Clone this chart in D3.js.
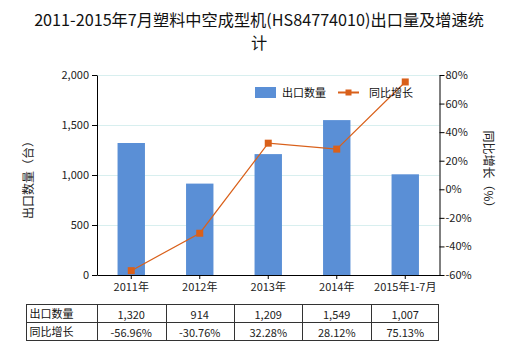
<!DOCTYPE html>
<html>
<head>
<meta charset="utf-8">
<script src="https://cdn.jsdelivr.net/npm/d3@7/dist/d3.min.js"></script>
<style>
  html, body { margin: 0; padding: 0; background: #fff; }
  svg { display: block; }
  text { font-family: "Microsoft YaHei", "Noto Sans CJK SC", "Noto Sans", sans-serif; }
</style>
</head>
<body>
<svg id="chart" width="520" height="350"></svg>
<script>
// Export volume and year-on-year growth of plastic blow-moulding machines
const categories = ["2011年", "2012年", "2013年", "2014年", "2015年1-7月"];
const volumes = [1320, 914, 1209, 1549, 1007];
const growth = [-56.96, -30.76, 32.28, 28.12, 75.13];
const volumeLabels = ["1,320", "914", "1,209", "1,549", "1,007"];
const growthLabels = ["-56.96%", "-30.76%", "32.28%", "28.12%", "75.13%"];
const leftTicks = [0, 500, 1000, 1500, 2000];
const rightTicks = [-60, -40, -20, 0, 20, 40, 60, 80];
const titleLines = ["2011-2015年7月塑料中空成型机(HS84774010)出口量及增速统", "计"];

const svg = d3.select("#chart");
const plotLeft = 97, plotRight = 439.5, plotTop = 75, plotBottom = 275;

const x = d3.scaleBand().domain(categories).range([plotLeft, plotRight]).paddingInner(0.6).paddingOuter(0.3);
const yL = d3.scaleLinear().domain([0, 2000]).range([plotBottom, plotTop]);
const yR = d3.scaleLinear().domain([-60, 80]).range([plotBottom, plotTop]);

const barColor = "#5a8fd6";
const lineColor = "#d9601a";
const fontStack = '"Microsoft YaHei", "Noto Sans CJK SC", sans-serif';

// Title (two lines)
svg.append("g").selectAll("text").data(titleLines).join("text")
  .attr("x", 259).attr("y", (d, i) => 26 + i * 23)
  .attr("text-anchor", "middle").attr("font-size", 16.2).attr("fill", "#111")
  .text(d => d);

// Gridlines
svg.append("g").selectAll("line").data(leftTicks.filter(d => d > 0)).join("line")
  .attr("x1", plotLeft).attr("x2", plotRight)
  .attr("y1", d => Math.round(yL(d)) + 0.5).attr("y2", d => Math.round(yL(d)) + 0.5)
  .attr("stroke", "#d8efef").attr("stroke-width", 1);

// Bars
svg.append("g").selectAll("rect").data(volumes).join("rect")
  .attr("x", (d, i) => x(categories[i]))
  .attr("width", x.bandwidth())
  .attr("y", d => yL(d))
  .attr("height", d => yL(0) - yL(d))
  .attr("fill", barColor);

// Left axis
const axL = svg.append("g").attr("transform", `translate(${plotLeft},0)`)
  .call(d3.axisLeft(yL).tickValues(leftTicks).tickFormat(d3.format(",")).tickSize(5).tickSizeOuter(0));
axL.select(".domain").attr("stroke", "#000");
axL.selectAll(".tick line").attr("stroke", "#000");
axL.selectAll("text").attr("font-size", 11).attr("fill", "#222").style("font-family", fontStack);

// Right axis
const axR = svg.append("g").attr("transform", `translate(${plotRight},0)`)
  .call(d3.axisRight(yR).tickValues(rightTicks).tickFormat(d => d + "%").tickSize(5).tickSizeOuter(0));
axR.select(".domain").attr("stroke", "#000");
axR.selectAll(".tick line").attr("stroke", "#000");
axR.selectAll("text").attr("font-size", 11).attr("fill", "#222").attr("x", 6).style("font-family", fontStack);

// Bottom axis
const axB = svg.append("g").attr("transform", `translate(0,${plotBottom})`)
  .call(d3.axisBottom(x).tickSize(4).tickSizeOuter(0));
axB.select(".domain").attr("stroke", "#000");
axB.selectAll(".tick line").attr("stroke", "#000");
axB.selectAll("text").attr("font-size", 11).attr("fill", "#222").attr("y", 8).style("font-family", fontStack);

// Growth line
const cx = (d, i) => x(categories[i]) + x.bandwidth() / 2;
svg.append("path").datum(growth)
  .attr("d", d3.line().x(cx).y(d => yR(d)))
  .attr("fill", "none").attr("stroke", lineColor).attr("stroke-width", 1.2);
svg.append("g").selectAll("rect").data(growth).join("rect")
  .attr("x", (d, i) => cx(d, i) - 3.5).attr("y", d => yR(d) - 3.5)
  .attr("width", 7).attr("height", 7).attr("fill", lineColor);

// Axis titles
svg.append("text").attr("transform", "translate(33,177) rotate(-90)")
  .attr("text-anchor", "middle").attr("font-size", 12).attr("fill", "#222").text("出口数量（台）");
svg.append("text").attr("transform", "translate(484,172) rotate(90)")
  .attr("text-anchor", "middle").attr("font-size", 12).attr("fill", "#222").text("同比增长（%）");

// Legend
const lg = svg.append("g");
lg.append("rect").attr("x", 255).attr("y", 87).attr("width", 21).attr("height", 11).attr("fill", barColor);
lg.append("text").attr("x", 282).attr("y", 97).attr("font-size", 11).attr("fill", "#111").text("出口数量");
lg.append("line").attr("x1", 338).attr("x2", 359).attr("y1", 92.5).attr("y2", 92.5)
  .attr("stroke", lineColor).attr("stroke-width", 2);
lg.append("rect").attr("x", 345.5).attr("y", 89.5).attr("width", 6).attr("height", 6).attr("fill", lineColor);
lg.append("text").attr("x", 369).attr("y", 97).attr("font-size", 11).attr("fill", "#111").text("同比增长");

// Data table
const tLeft = 26.5, tTop = 304.5, rowH = 18;
const tRight = plotRight - 1;
const colEdges = categories.map(c => x(c) - (x.step() - x.bandwidth()) / 2);
const tbl = svg.append("g");
const rows = [{ head: "出口数量", vals: volumeLabels }, { head: "同比增长", vals: growthLabels }];
tbl.append("rect").attr("x", tLeft).attr("y", tTop).attr("width", tRight - tLeft)
  .attr("height", rowH * 2).attr("fill", "none").attr("stroke", "#333").attr("stroke-width", 1);
tbl.append("line").attr("x1", tLeft).attr("x2", tRight)
  .attr("y1", tTop + rowH).attr("y2", tTop + rowH).attr("stroke", "#333");
colEdges.forEach(ex => {
  tbl.append("line").attr("x1", Math.round(ex) + 0.5).attr("x2", Math.round(ex) + 0.5)
    .attr("y1", tTop).attr("y2", tTop + rowH * 2).attr("stroke", "#333");
});
rows.forEach((r, ri) => {
  tbl.append("text").attr("x", tLeft + 3).attr("y", tTop + ri * rowH + 13)
    .attr("font-size", 11).attr("fill", "#111").text(r.head);
  r.vals.forEach((v, i) => {
    tbl.append("text").attr("x", x(categories[i]) + x.bandwidth() / 2).attr("y", tTop + ri * rowH + 14)
      .attr("text-anchor", "middle").attr("font-size", 11).attr("fill", "#222").text(v);
  });
});
</script>
</body>
</html>
